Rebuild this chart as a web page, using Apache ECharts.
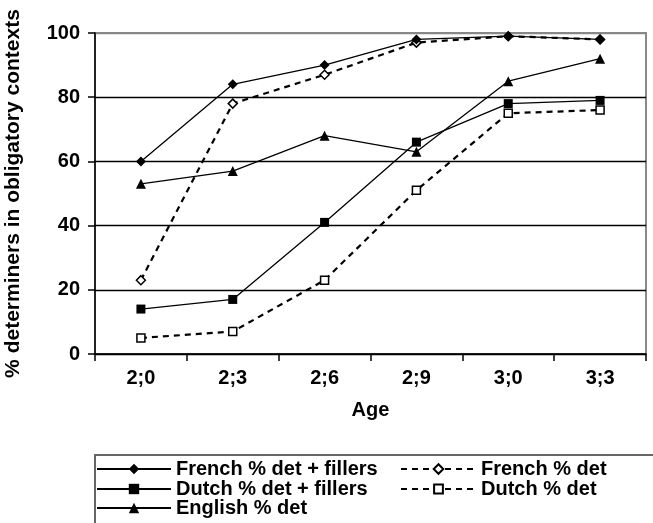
<!DOCTYPE html>
<html>
<head>
<meta charset="utf-8">
<script src="https://cdn.jsdelivr.net/npm/echarts@6/dist/echarts.min.js"></script>
<style>html,body{margin:0;padding:0;background:#fff}#c{width:653px;height:523px}</style>
</head>
<body>
<div id="c"></div>
<script>
var ages = ['2;0', '2;3', '2;6', '2;9', '3;0', '3;3'];
var frenchDetFillers = [60, 84, 90, 98, 99, 98];
var frenchDet = [23, 78, 87, 97, 99, 98];
var dutchDetFillers = [14, 17, 41, 66, 78, 79];
var dutchDet = [5, 7, 23, 51, 75, 76];
var englishDet = [53, 57, 68, 63, 85, 92];
var yTicks = [0, 20, 40, 60, 80, 100];

var FONT = "'Liberation Sans', Arial, Helvetica, sans-serif";
var chart = echarts.init(document.getElementById('c'), null, {renderer: 'canvas'});

function solid(name, data, symbol, size) {
  return {
    name: name, type: 'line', data: data, symbol: symbol, symbolSize: size, showSymbol: true,
    lineStyle: {color: '#000', width: 1.3, type: 'solid'},
    itemStyle: {color: '#000', borderColor: '#000', borderWidth: 0},
    z: 3
  };
}
function dashed(name, data, symbol, size) {
  return {
    name: name, type: 'line', data: data, symbol: symbol, symbolSize: size, showSymbol: true,
    lineStyle: {color: '#000', width: 2.2, type: [6, 5]},
    itemStyle: {color: '#fff', borderColor: '#000', borderWidth: 1.5},
    z: 2
  };
}
function leg(name, left, top, w, h) {
  return {
    orient: 'horizontal', left: left, top: top, itemWidth: w, itemHeight: h, padding: 0,
    textStyle: {fontFamily: FONT, fontWeight: 'bold', fontSize: 20, color: '#000'},
    data: [name]
  };
}

var option = {
  backgroundColor: '#fff',
  animation: false,
  textStyle: {fontFamily: FONT},
  grid: {left: 95, right: 7, top: 33, bottom: 169, show: true, borderColor: '#888', borderWidth: 2,
    backgroundColor: 'transparent', containLabel: false, outerBoundsMode: 'none'},
  xAxis: {
    type: 'category', data: ages, boundaryGap: true,
    name: 'Age', nameLocation: 'middle', nameGap: 46,
    nameTextStyle: {fontFamily: FONT, fontWeight: 'bold', fontSize: 20, color: '#000'},
    axisLine: {lineStyle: {color: '#000', width: 1.5}},
    axisTick: {show: true, length: 7, lineStyle: {color: '#000', width: 1.5}},
    axisLabel: {fontFamily: FONT, fontWeight: 'bold', fontSize: 20, color: '#000', margin: 14},
    splitLine: {show: false}
  },
  yAxis: {
    type: 'value', min: 0, max: 100, interval: 20,
    name: '% determiners in obligatory contexts', nameLocation: 'middle', nameGap: 71, nameRotate: 90,
    nameTextStyle: {fontFamily: FONT, fontWeight: 'bold', fontSize: 21, color: '#000'},
    axisLine: {show: true, lineStyle: {color: '#000', width: 1.5}},
    axisTick: {show: true, length: 7, lineStyle: {color: '#000', width: 1.5}},
    axisLabel: {fontFamily: FONT, fontWeight: 'bold', fontSize: 20, color: '#000', margin: 15,
      formatter: function (v) { return yTicks.indexOf(v) >= 0 ? String(v) : ''; }},
    splitLine: {show: true, lineStyle: {color: ['#000', '#000', '#000', '#000', '#000', '#888'], width: 1.3}}
  },
  legend: [
    leg('French % det + fillers', 96, 459, 74, 13),
    leg('Dutch % det + fillers', 96, 479, 74, 13),
    leg('English % det', 96, 498, 74, 13),
    leg('French % det', 400, 459, 75, 12),
    leg('Dutch % det', 400, 479, 75, 11)
  ],
  graphic: [
    {type: 'polyline', shape: {points: [[95, 524], [95, 455], [660, 455]]}, style: {stroke: '#666', lineWidth: 2, fill: null}, silent: true}
  ],
  series: [
    solid('French % det + fillers', frenchDetFillers, 'diamond', 10),
    dashed('French % det', frenchDet, 'diamond', 9),
    solid('Dutch % det + fillers', dutchDetFillers, 'rect', 9),
    dashed('Dutch % det', dutchDet, 'rect', 8),
    solid('English % det', englishDet, 'triangle', 10)
  ]
};
chart.setOption(option);
</script>
</body>
</html>
